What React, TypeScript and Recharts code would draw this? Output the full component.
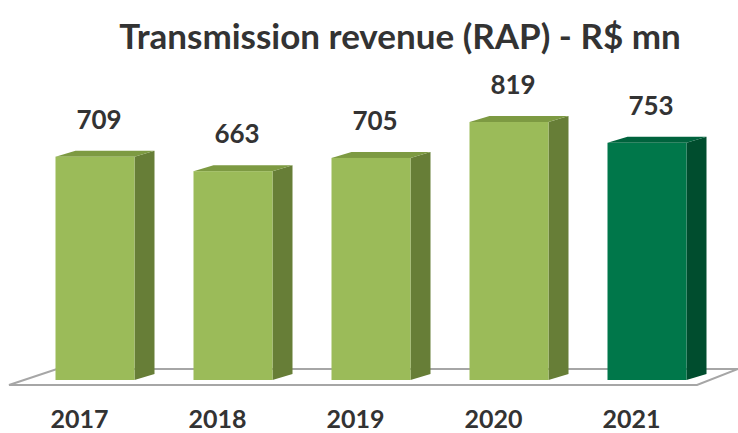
import React from "react";
import { BarChart, Bar, XAxis, YAxis, LabelList, ReferenceArea, Cell } from "recharts";

const years = ["2017", "2018", "2019", "2020", "2021"];
const rap = [709, 663, 705, 819, 753];
const highlight = [false, false, false, false, true];

const data = years.map((year, i) => ({ year, rap: rap[i], hl: highlight[i] }));

const light = { front: "#9BBB59", side: "#677E37", top: "#7D9A42" };
const dark = { front: "#00774A", side: "#004D2E", top: "#00633D" };

const DEPTH_X = 20;
const DEPTH_Y = 6;

const Box3D = (props: any) => {
  const { x, y, width, height, payload } = props;
  if (!height || height <= 0) return null;
  const c = payload.hl ? dark : light;
  const r = x + width;
  const b = y + height;
  return (
    <g>
      <polygon
        points={`${r},${y} ${r + DEPTH_X},${y - DEPTH_Y} ${r + DEPTH_X},${b - DEPTH_Y} ${r},${b}`}
        fill={c.side}
      />
      <polygon
        points={`${x},${y} ${x + DEPTH_X},${y - DEPTH_Y} ${r + DEPTH_X},${y - DEPTH_Y} ${r},${y}`}
        fill={c.top}
      />
      <rect x={x} y={y} width={width} height={height} fill={c.front} />
    </g>
  );
};

const Floor = (props: any) => {
  const { x, y, width } = props;
  const pts = [
    [x - 16.5, y + 5],
    [x + width - 18.5, y + 5],
    [x + width + 22.5, y - 11],
    [x + 31.5, y - 11],
  ]
    .map((p) => p.join(","))
    .join(" ");
  return (
    <g>
      <polygon points={pts} fill="#ffffff" stroke="#A6A6A6" strokeWidth={2} />
    </g>
  );
};

const YearTick = (props: any) => {
  const { x, y, payload } = props;
  return (
    <text
      x={x - 15}
      y={y + 40}
      textAnchor="middle"
      fontFamily="Lato"
      fontWeight={700}
      fontSize={25}
      fill="#333333"
    >
      {payload.value}
    </text>
  );
};

const ValueLabel = (props: any) => {
  const { x, y, width, value } = props;
  return (
    <text
      x={x + width / 2 + 4}
      y={y - 28}
      textAnchor="middle"
      fontFamily="Lato"
      fontWeight={700}
      fontSize={26}
      fill="#333333"
    >
      {value}
    </text>
  );
};

export default function App() {
  return (
    <div style={{ position: "absolute", left: 0, top: 0, width: 738, height: 433, background: "#fff" }}>
      <div
        style={{
          position: "absolute",
          left: 0,
          top: 14,
          width: 800,
          textAlign: "center",
          fontFamily: "Lato",
          fontWeight: 700,
          fontSize: 35,
          color: "#333333",
          whiteSpace: "nowrap",
        }}
      >
        Transmission revenue (RAP) - R$ mn
      </div>
      <BarChart
        width={738}
        height={433}
        data={data}
        margin={{ top: 65, right: 22.5, bottom: 0, left: 25.5 }}
      >
        <YAxis hide domain={[0, 1000]} />
        <XAxis dataKey="year" axisLine={false} tickLine={false} height={53} tick={<YearTick />} interval={0} />
        <ReferenceArea y1={-10} y2={0} ifOverflow="visible" shape={<Floor />} />
        <Bar dataKey="rap" barSize={79} shape={<Box3D />} isAnimationActive={false}>
          {data.map((d, i) => (
            <Cell key={i} fill={d.hl ? dark.front : light.front} />
          ))}
          <LabelList dataKey="rap" content={<ValueLabel />} />
        </Bar>
      </BarChart>
    </div>
  );
}
